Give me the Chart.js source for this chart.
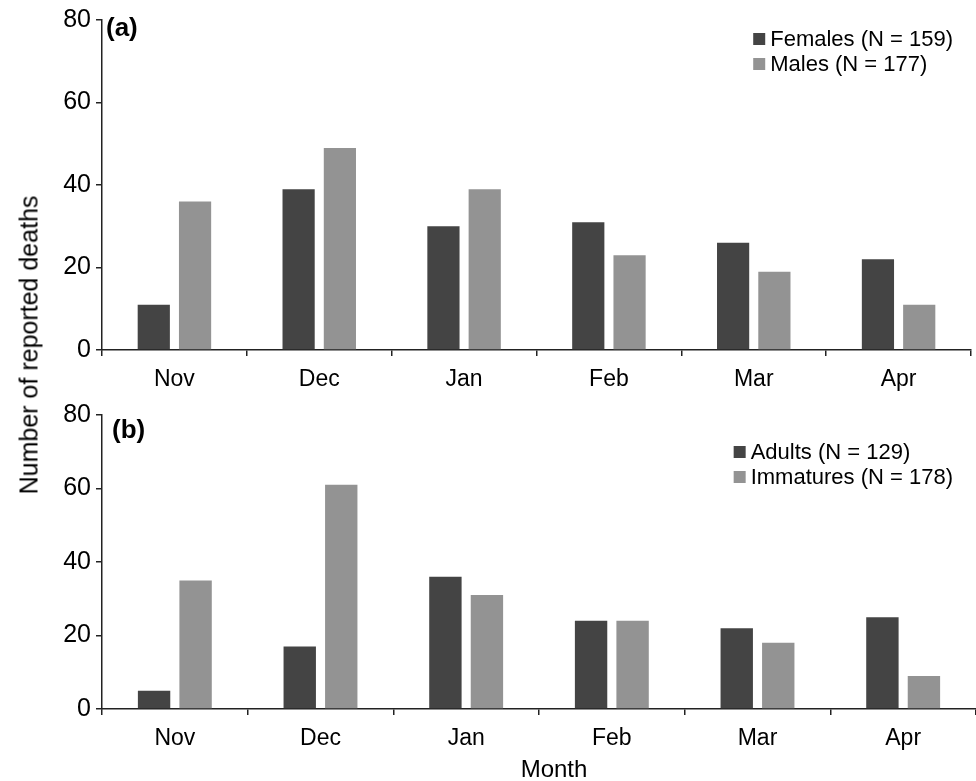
<!DOCTYPE html>
<html>
<head>
<meta charset="utf-8">
<script src="https://cdn.jsdelivr.net/npm/chart.js@4.4.0/dist/chart.umd.min.js"></script>
<style>
  body { margin: 0; background: #fff; }
  #wrap { position: relative; width: 976px; height: 781px; font-family: "Liberation Sans", Arial, sans-serif; color: #000; }
  #chartA { position: absolute; left: 0; top: 0; }
  #chartB { position: absolute; left: 0; top: 395px; }
  #ytitle { position: absolute; left: 29px; top: 345px; transform: translate(-50%, -50%) rotate(-90deg); font-size: 25px; white-space: nowrap; }
  #xtitle { position: absolute; left: 554px; top: 769px; transform: translate(-50%, -50%); font-size: 24px; }
</style>
</head>
<body>
<div id="wrap">
  <canvas id="chartA" width="976" height="395"></canvas>
  <canvas id="chartB" width="976" height="386"></canvas>
  <div id="ytitle">Number of reported deaths</div>
  <div id="xtitle">Month</div>
</div>
<script>
const months = ['Nov', 'Dec', 'Jan', 'Feb', 'Mar', 'Apr']
const yTicks = [0, 20, 40, 60, 80]

const females = [11, 39, 30, 31, 26, 22]
const males = [36, 49, 39, 23, 19, 11]
const adults = [5, 17, 36, 24, 22, 25]
const immatures = [35, 61, 31, 24, 18, 9]

const darkGrey = '#444444'
const lightGrey = '#939393'
const font = '"Liberation Sans", Arial, sans-serif'

// legend + panel letter drawn on the canvas
const panelDecor = {
    id: 'panelDecor',
    afterDraw(chart, args, opts) {
        const ctx = chart.ctx
        ctx.save()
        ctx.fillStyle = '#000'
        ctx.font = 'bold 26px ' + font
        ctx.textBaseline = 'middle'
        ctx.textAlign = 'left'
        ctx.fillText(opts.letter, opts.letterX, opts.letterY)

        ctx.font = '22px ' + font
        const sets = chart.data.datasets
        let w = 0
        sets.forEach(ds => { w = Math.max(w, ctx.measureText(ds.label).width) })
        const x0 = opts.legendRight - w - 17
        sets.forEach((ds, i) => {
            const y = opts.legendTop + i * 25
            ctx.fillStyle = ds.backgroundColor
            ctx.fillRect(x0, y - 6, 12, 12)
            ctx.fillStyle = '#000'
            ctx.fillText(ds.label, x0 + 17, y + 1)
        })
        ctx.restore()
    }
}

function makeChart(id, labels, a, b, decor, padding) {
    const ctx = document.getElementById(id).getContext('2d')
    return new Chart(ctx, {
        type: 'bar',
        data: {
            labels: months,
            datasets: [
                { label: labels[0], data: a, backgroundColor: darkGrey },
                { label: labels[1], data: b, backgroundColor: lightGrey }
            ]
        },
        plugins: [panelDecor],
        options: {
            responsive: false,
            animation: false,
            layout: { padding: padding },
            datasets: { bar: { categoryPercentage: 0.57, barPercentage: 0.78 } },
            plugins: {
                legend: { display: false },
                tooltip: { enabled: false },
                panelDecor: decor
            },
            scales: {
                x: {
                    grid: { offset: true, drawOnChartArea: false, tickLength: 6, color: '#222', lineWidth: 1.5 },
                    border: { color: '#222', width: 1.5 },
                    ticks: { color: '#000', font: { family: font, size: 23 }, padding: 10, maxRotation: 0 },
                    afterFit: s => { s.height = 45 }
                },
                y: {
                    min: 0,
                    max: 80,
                    afterBuildTicks: s => { s.ticks = yTicks.map(v => ({ value: v })) },
                    grid: { drawOnChartArea: false, tickLength: 6, color: '#222', lineWidth: 1.5 },
                    border: { color: '#222', width: 1.5 },
                    ticks: { color: '#000', font: { family: font, size: 25 }, padding: 5 },
                    afterFit: s => { s.width = 102 }
                }
            }
        }
    })
}

makeChart('chartA', ['Females (N = 159)', 'Males (N = 177)'], females, males,
    { letter: '(a)', letterX: 106, letterY: 29, legendRight: 953, legendTop: 39 },
    { left: 0, right: 5, top: 20, bottom: 0 })

makeChart('chartB', ['Adults (N = 129)', 'Immatures (N = 178)'], adults, immatures,
    { letter: '(b)', letterX: 112, letterY: 36, legendRight: 953, legendTop: 57 },
    { left: 0, right: 0, top: 20, bottom: 27 })
</script>
</body>
</html>
